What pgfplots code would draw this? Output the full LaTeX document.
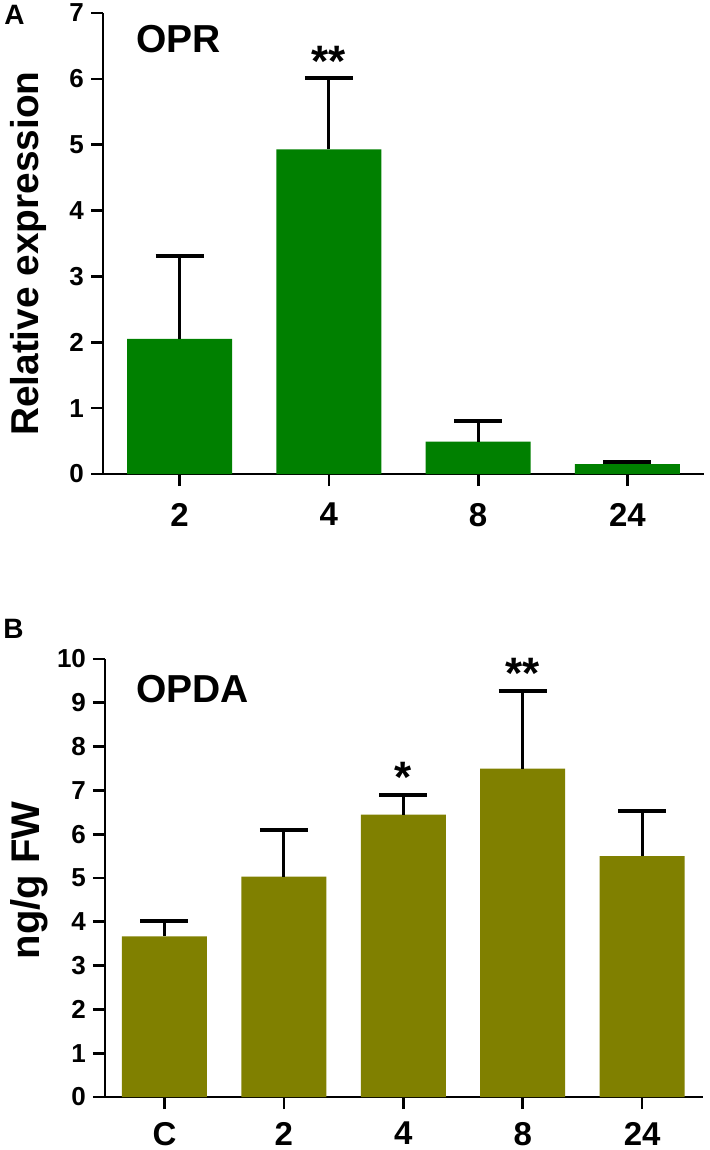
\documentclass[border=0pt]{standalone}
\usepackage{fontspec}
\setmainfont{Liberation Sans}
\usepackage{pgfplots}
\pgfplotsset{compat=1.18}

\definecolor{barA}{RGB}{0,128,0}
\definecolor{barB}{RGB}{128,128,0}

\pgfplotsset{
  panel/.style={
    scale only axis,
    anchor=south west,
    axis x line=bottom, axis y line=left,
    axis line style={-, line width=1.35pt},
    tick align=outside,
    major tick length=6pt,
    tick style={line width=1.35pt, black},
    enlargelimits=false,
    clip=false,
    ybar,
    ymin=0,
    /pgf/number format/assume math mode=true,
    yticklabel style={font=\bfseries\fontsize{13}{15}\selectfont},
    xticklabel style={font=\bfseries\fontsize{16.5}{18}\selectfont, yshift=-3pt},
    ylabel style={font=\bfseries\fontsize{20}{22}\selectfont, anchor=base},
    error bars/y dir=plus,
    error bars/y explicit,
    error bars/error bar style={line width=1.5pt, black},
    error bars/error mark options={rotate=90, mark size=12pt, line width=2pt, black},
  },
}
\tikzset{stars/.style={font=\bfseries\fontsize{22}{24}\selectfont, anchor=base, inner sep=0pt, yshift=1pt}}

\begin{document}
\begin{tikzpicture}
\useasboundingbox (0,0) rectangle (354.5pt,-575pt);

% panel A
\node[anchor=base west, inner sep=0pt, font=\bfseries\fontsize{14}{16}\selectfont] at (2pt,-12.5pt) {A};
\node[anchor=base west, inner sep=0pt, font=\bfseries\fontsize{19.5}{22}\selectfont] at (68pt,-26.5pt) {OPR};
\begin{axis}[panel,
    at={(51.5pt,-237pt)},
    width=300.5pt, height=230.5pt,
    xmin=-0.513, xmax=3.513, ymax=7,
    bar width=52.5pt,
    xtick={0,1,2,3}, xticklabels={2,4,8,24},
    xticklabel style={yshift=-2pt},
    ytick={0,1,...,7},
    ylabel={Relative expression},
    ylabel style={at={(rel axis cs:-0.1065,0.478)}, font=\bfseries\fontsize{19.4}{22}\selectfont},
  ]
  \addplot[fill=barA, draw=none] coordinates {
    (0,2.05) +- (0,1.26)
    (1,4.93) +- (0,1.08)
    (2,0.49) +- (0,0.31)
    (3,0.15) +- (0,0.03)
  };
  \node[stars] at (axis cs:1,6.01) {**};
\end{axis}

% panel B
\node[anchor=base west, inner sep=0pt, font=\bfseries\fontsize{14}{16}\selectfont] at (1.5pt,-319pt) {B};
\node[anchor=base west, inner sep=0pt, font=\bfseries\fontsize{19.5}{22}\selectfont] at (68pt,-351pt) {OPDA};
\begin{axis}[panel,
    at={(52.5pt,-548.5pt)},
    width=299pt, height=219pt,
    xmin=-0.498, xmax=4.51, ymax=10,
    bar width=42.5pt,
    xtick={0,1,2,3,4}, xticklabels={C,2,4,8,24},
    ytick={0,1,...,10},
    ylabel={ng/g FW},
    ylabel style={at={(rel axis cs:-0.1087,0.495)}},
  ]
  \addplot[fill=barB, draw=none] coordinates {
    (0,3.67) +- (0,0.35)
    (1,5.03) +- (0,1.06)
    (2,6.45) +- (0,0.45)
    (3,7.50) +- (0,1.77)
    (4,5.50) +- (0,1.03)
  };
  \node[stars] at (axis cs:2,6.90) {*};
  \node[stars] at (axis cs:3,9.27) {**};
\end{axis}
\end{tikzpicture}
\end{document}
